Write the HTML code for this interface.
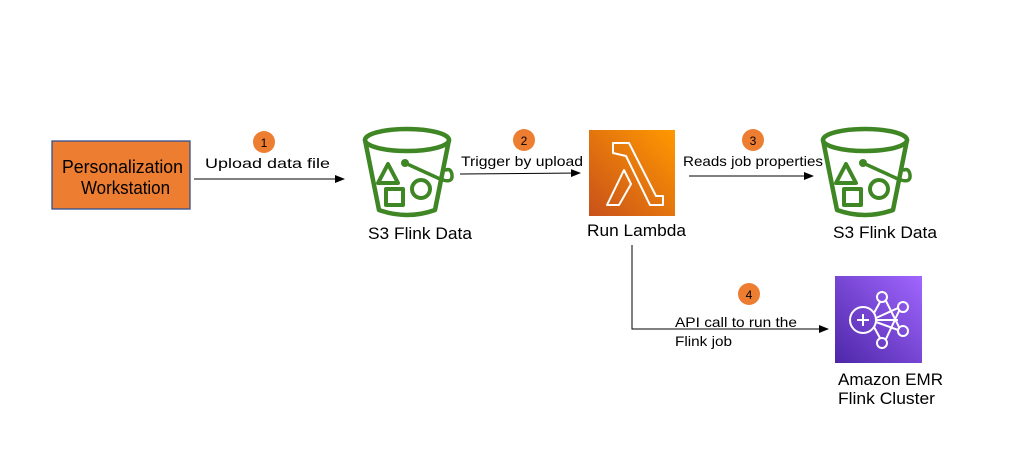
<!DOCTYPE html>
<html><head><style>body{margin:0;background:#fff}svg{display:block}text{font-family:"Liberation Sans","DejaVu Sans",sans-serif}</style></head><body>
<svg width="1011" height="475" viewBox="0 0 1011 475" xmlns="http://www.w3.org/2000/svg">
<defs>
<marker id="a" markerWidth="10" markerHeight="8" refX="9" refY="4" orient="auto" markerUnits="userSpaceOnUse"><path d="M0,0 L10,4 L0,8z" fill="#000"/></marker>
<linearGradient id="lg" x1="0" y1="1" x2="1" y2="0"><stop offset="0" stop-color="#c8511b"/><stop offset="1" stop-color="#ff9900"/></linearGradient>
<linearGradient id="eg" x1="0" y1="1" x2="1" y2="0"><stop offset="0" stop-color="#4d27a8"/><stop offset="1" stop-color="#a166ff"/></linearGradient>
<g id="bk" fill="none" stroke="#3f8624" stroke-width="4.5" stroke-linecap="round" stroke-linejoin="round">
<ellipse cx="45" cy="14" rx="42" ry="11"/>
<path d="M3,14 L17,84 Q45,94 73,84 L87,14"/>
<path d="M26,38 L36,57 L16,57z" stroke-width="4"/>
<rect x="24" y="63" width="17" height="16" stroke-width="4"/>
<circle cx="59" cy="63" r="9" stroke-width="4"/>
<path d="M43,37 L78,53 Q91,58 90,49 Q89,42 84,44" stroke-width="3.5"/>
<circle cx="43" cy="37" r="4" fill="#3f8624" stroke="none"/>
</g>
</defs>
<rect x="52" y="141" width="138" height="68" fill="#ed7d31" stroke="#2f528f" stroke-width="1.3"/>
<text x="62" y="173" font-size="18" textLength="121" lengthAdjust="spacingAndGlyphs">Personalization</text>
<text x="81" y="194" font-size="18" textLength="89" lengthAdjust="spacingAndGlyphs">Workstation</text>

<line x1="194" y1="179" x2="344" y2="179" stroke="#000" stroke-width="1" marker-end="url(#a)"/>
<circle cx="264" cy="142" r="11" fill="#ed7d31"/><text x="264" y="147" font-size="12" text-anchor="middle">1</text>
<text x="205" y="168" font-size="14" textLength="125" lengthAdjust="spacingAndGlyphs">Upload data file</text>

<use href="#bk" x="362" y="126"/>
<text x="368" y="239" font-size="17" textLength="104" lengthAdjust="spacingAndGlyphs">S3 Flink Data</text>

<line x1="460" y1="174" x2="580" y2="173" stroke="#000" stroke-width="1" marker-end="url(#a)"/>
<circle cx="524" cy="140" r="11" fill="#ed7d31"/><text x="524" y="145" font-size="12" text-anchor="middle">2</text>
<text x="461" y="166" font-size="14" textLength="122" lengthAdjust="spacingAndGlyphs">Trigger by upload</text>

<rect x="589" y="130" width="86" height="86" fill="url(#lg)"/>
<path d="M613,153 L613,143 L629,143 L656,196 L663,196 L663,205 L650,205 L626,156 z M624,170 L631,184 L619,205 L607,205 z" fill="none" stroke="#fff" stroke-width="2" stroke-linejoin="round"/>
<text x="587" y="236" font-size="17" textLength="99" lengthAdjust="spacingAndGlyphs">Run Lambda</text>

<line x1="689" y1="176" x2="813" y2="176" stroke="#000" stroke-width="1" marker-end="url(#a)"/>
<circle cx="753" cy="140" r="11" fill="#ed7d31"/><text x="753" y="145" font-size="12" text-anchor="middle">3</text>
<text x="683" y="166" font-size="14" textLength="140" lengthAdjust="spacingAndGlyphs">Reads job properties</text>

<use href="#bk" x="820" y="126"/>
<text x="833" y="238" font-size="17" textLength="104" lengthAdjust="spacingAndGlyphs">S3 Flink Data</text>

<polyline points="632,245 632,329 828,329" fill="none" stroke="#000" stroke-width="1" marker-end="url(#a)"/>
<circle cx="749" cy="294" r="11" fill="#ed7d31"/><text x="749" y="299" font-size="12" text-anchor="middle">4</text>
<text x="675" y="327" font-size="14" textLength="122" lengthAdjust="spacingAndGlyphs">API call to run the</text>
<text x="675" y="346" font-size="14" textLength="57" lengthAdjust="spacingAndGlyphs">Flink job</text>

<rect x="835" y="276" width="87" height="87" fill="url(#eg)"/>
<g fill="none" stroke="#fff" stroke-width="2">
<circle cx="863" cy="320" r="13"/>
<path d="M857,320 H869 M863,314 V326"/>
<circle cx="882" cy="297" r="5"/><circle cx="903" cy="307" r="5"/><circle cx="903" cy="331" r="5"/><circle cx="882" cy="343" r="5"/>
<path d="M874,313 L880,302 M876,318 L898,308 M876,322 L898,330 M874,327 L880,338 M886,301 L899,327 M886,339 L899,311 M877,320 L898,320"/>
</g>
<text x="838" y="385" font-size="17" textLength="105" lengthAdjust="spacingAndGlyphs">Amazon EMR</text>
<text x="838" y="404" font-size="17" textLength="97" lengthAdjust="spacingAndGlyphs">Flink Cluster</text>
</svg>
</body></html>
